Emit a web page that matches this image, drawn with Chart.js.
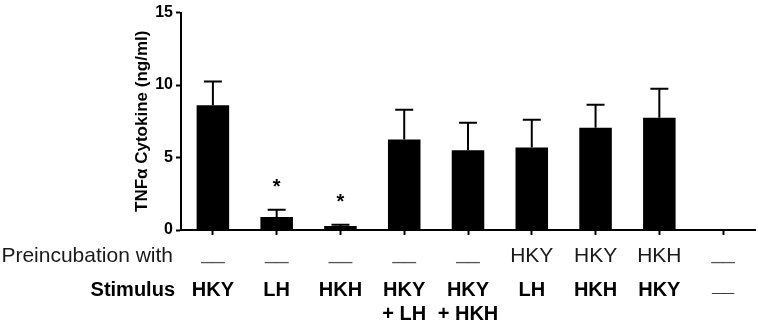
<!DOCTYPE html>
<html>
<head>
<meta charset="utf-8">
<script src="https://cdn.jsdelivr.net/npm/chart.js@4.4.1/dist/chart.umd.min.js"></script>
<style>
  html, body { margin: 0; padding: 0; background: #fff; }
  #wrap { width: 758px; height: 323px; }
</style>
</head>
<body>
<div id="wrap"><canvas id="tnf-chart"></canvas></div>
<script>
// values (ng/ml)
const categories = ['HKY', 'LH', 'HKH', 'HKY+LH', 'HKY+HKH', 'HKY/LH', 'HKY/HKH', 'HKH/HKY', 'none'];
const means = [8.6, 0.9, 0.27, 6.25, 5.5, 5.7, 7.05, 7.75, 0.05];
const errUp = [1.65, 0.5, 0.1, 2.05, 1.9, 1.9, 1.6, 2.0, 0];
const significant = [false, true, true, false, false, false, false, false, false];
const preincubation = ['__', '__', '__', '__', '__', 'HKY', 'HKY', 'HKH', '__'];
const stimulus = [['HKY'], ['LH'], ['HKH'], ['HKY', '+ LH'], ['HKY', '+ HKH'], ['LH'], ['HKH'], ['HKY'], ['__']];
const yTicks = [0, 5, 10, 15];

const errorBars = {
    id: 'errorBars',
    afterDatasetsDraw(chart) {
        const ctx = chart.ctx
        const x = chart.scales.x
        const y = chart.scales.y
        ctx.save()
        ctx.strokeStyle = '#000'
        ctx.lineWidth = 2
        means.forEach((m, i) => {
            if (!errUp[i]) return
            const px = x.getPixelForValue(i)
            const top = y.getPixelForValue(m + errUp[i])
            ctx.beginPath()
            ctx.moveTo(px, y.getPixelForValue(m))
            ctx.lineTo(px, top)
            ctx.moveTo(px - 9, top)
            ctx.lineTo(px + 9, top)
            ctx.stroke()
        })
        // asterisks
        ctx.fillStyle = '#000'
        ctx.font = 'bold 20px Arial, "Liberation Sans"'
        ctx.textAlign = 'center'
        ctx.textBaseline = 'middle'
        significant.forEach((s, i) => {
            if (!s) return
            const px = x.getPixelForValue(i)
            const top = y.getPixelForValue(means[i] + errUp[i])
            ctx.fillText('*', px, top - 22)
        })
        ctx.restore()
    }
}

const rowLabels = {
    id: 'rowLabels',
    afterDraw(chart) {
        const ctx = chart.ctx
        const x = chart.scales.x
        const base = chart.chartArea.bottom
        const left = chart.chartArea.left
        ctx.save()
        ctx.textBaseline = 'alphabetic'
        ctx.fillStyle = '#1a1a1a'
        ctx.font = '21px Arial, "Liberation Sans"'
        ctx.textAlign = 'right'
        ctx.fillText('Preincubation with', left - 8, base + 32)
        ctx.textAlign = 'center'
        preincubation.forEach((t, i) => {
            const dash = t === '__'
            ctx.fillStyle = dash ? '#555' : '#1a1a1a'
            ctx.fillText(t, x.getPixelForValue(i), base + (dash ? 29 : 32))
        })
        ctx.fillStyle = '#000'
        ctx.font = 'bold 20px Arial, "Liberation Sans"'
        ctx.textAlign = 'right'
        ctx.fillText('Stimulus', left - 6, base + 66)
        ctx.textAlign = 'center'
        stimulus.forEach((lines, i) => {
            lines.forEach((t, j) => {
                const dash = t === '__'
                ctx.fillText(t, x.getPixelForValue(i), base + (dash ? 61 : 66) + j * 24)
            })
        })
        ctx.restore()
    }
}

const ctxBar = document.getElementById('tnf-chart')
const tnfChart = new Chart(ctxBar, {
    type: 'bar',
    plugins: [errorBars, rowLabels],
    data: {
        labels: categories,
        datasets: [{
            data: means,
            backgroundColor: '#000',
            borderColor: '#000',
            borderWidth: 0,
            barPercentage: 0.51,
            categoryPercentage: 1.0
        }]
    },
    options: {
        responsive: true,
        maintainAspectRatio: false,
        animation: false,
        layout: { padding: { left: 128, right: 3, top: 8, bottom: 0 } },
        plugins: {
            legend: { display: false },
            tooltip: { enabled: false }
        },
        scales: {
            x: {
                offset: true,
                grid: {
                    offset: false,
                    drawOnChartArea: false,
                    drawTicks: true,
                    tickLength: 5,
                    tickWidth: 2,
                    tickColor: '#000'
                },
                border: { color: '#000', width: 2 },
                ticks: { display: false },
                afterFit(scale) { scale.height = 93 }
            },
            y: {
                min: 0,
                max: 15,
                afterBuildTicks(scale) { scale.ticks = yTicks.map(v => ({ value: v })) },
                grid: {
                    drawOnChartArea: false,
                    tickLength: 5,
                    tickWidth: 2,
                    tickColor: '#000'
                },
                border: { color: '#000', width: 2 },
                ticks: {
                    color: '#000',
                    padding: 3,
                    font: { family: 'Arial, "Liberation Sans"', size: 16, weight: 'bold' }
                },
                title: {
                    display: true,
                    text: 'TNFα Cytokine (ng/ml)',
                    color: '#000',
                    padding: { top: 4, bottom: 0 },
                    font: { family: 'Arial, "Liberation Sans"', size: 17, weight: 'bold' }
                },
                afterFit(scale) { scale.width = 53 }
            }
        }
    }
})
</script>
</body>
</html>
